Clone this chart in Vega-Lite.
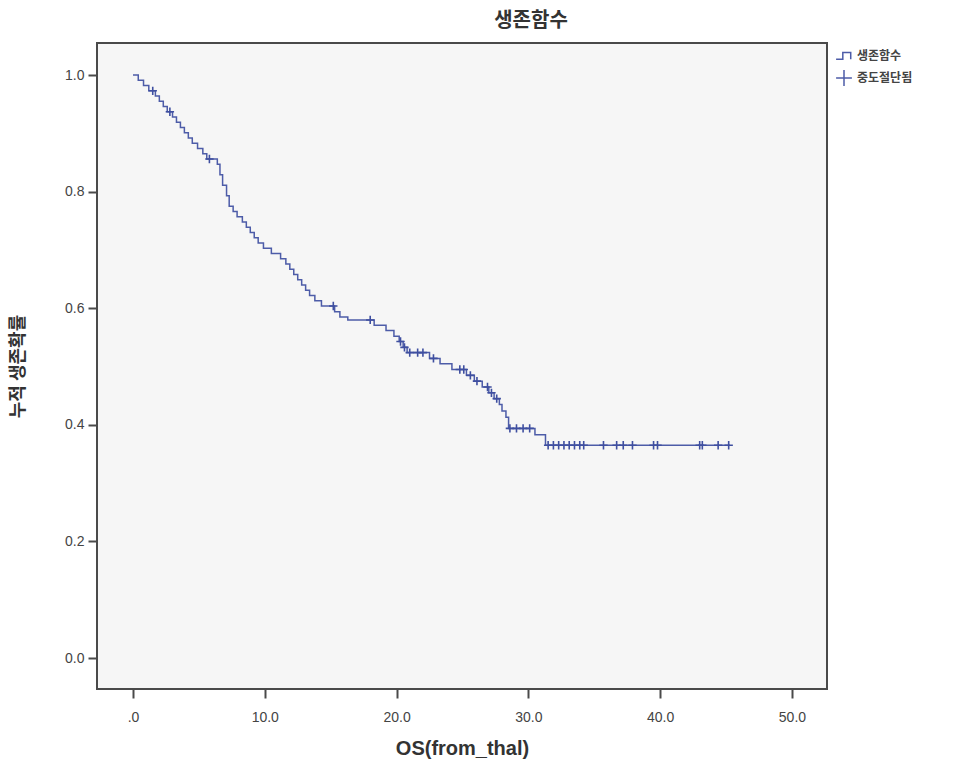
{
  "$schema": "https://vega.github.io/schema/vega-lite/v6.json",
  "width": 730,
  "height": 646,
  "autosize": {"type": "none"},
  "padding": {"left": 97, "top": 43, "right": 146, "bottom": 79},
  "background": "white",
  "config": {
    "font": "Liberation Sans, Noto Sans CJK KR",
    "view": {"fill": "#f6f6f6", "stroke": "#4a4a4a", "strokeWidth": 2}
  },
  "title": {
    "text": "생존함수",
    "font": "Noto Sans CJK KR",
    "fontSize": 20,
    "fontWeight": "bold",
    "color": "#333333",
    "anchor": "middle",
    "dx": 69,
    "offset": 12
  },
  "datasets": {
    "events": [
      {"t": 0.0, "s": 1.0},
      {"t": 0.4, "s": 0.991},
      {"t": 0.8, "s": 0.982},
      {"t": 1.2, "s": 0.973},
      {"t": 1.7, "s": 0.964},
      {"t": 2.0, "s": 0.955},
      {"t": 2.3, "s": 0.946},
      {"t": 2.6, "s": 0.937},
      {"t": 3.0, "s": 0.928},
      {"t": 3.3, "s": 0.919},
      {"t": 3.6, "s": 0.910},
      {"t": 3.9, "s": 0.901},
      {"t": 4.2, "s": 0.892},
      {"t": 4.5, "s": 0.883},
      {"t": 4.9, "s": 0.874},
      {"t": 5.3, "s": 0.865},
      {"t": 5.6, "s": 0.856},
      {"t": 6.4, "s": 0.847},
      {"t": 6.6, "s": 0.829},
      {"t": 6.8, "s": 0.811},
      {"t": 7.1, "s": 0.793},
      {"t": 7.3, "s": 0.775},
      {"t": 7.6, "s": 0.766},
      {"t": 7.9, "s": 0.757},
      {"t": 8.3, "s": 0.748},
      {"t": 8.6, "s": 0.739},
      {"t": 8.9, "s": 0.730},
      {"t": 9.2, "s": 0.721},
      {"t": 9.5, "s": 0.712},
      {"t": 9.9, "s": 0.703},
      {"t": 10.5, "s": 0.694},
      {"t": 11.2, "s": 0.685},
      {"t": 11.6, "s": 0.676},
      {"t": 11.9, "s": 0.667},
      {"t": 12.2, "s": 0.658},
      {"t": 12.5, "s": 0.649},
      {"t": 12.8, "s": 0.640},
      {"t": 13.1, "s": 0.631},
      {"t": 13.4, "s": 0.622},
      {"t": 13.8, "s": 0.613},
      {"t": 14.3, "s": 0.604},
      {"t": 15.3, "s": 0.594},
      {"t": 15.7, "s": 0.585},
      {"t": 16.3, "s": 0.580},
      {"t": 18.3, "s": 0.571},
      {"t": 19.2, "s": 0.562},
      {"t": 19.8, "s": 0.552},
      {"t": 20.2, "s": 0.543},
      {"t": 20.5, "s": 0.533},
      {"t": 20.8, "s": 0.524},
      {"t": 22.5, "s": 0.514},
      {"t": 23.3, "s": 0.505},
      {"t": 24.2, "s": 0.495},
      {"t": 25.3, "s": 0.485},
      {"t": 25.9, "s": 0.475},
      {"t": 26.5, "s": 0.465},
      {"t": 27.0, "s": 0.455},
      {"t": 27.4, "s": 0.445},
      {"t": 27.8, "s": 0.435},
      {"t": 28.0, "s": 0.424},
      {"t": 28.3, "s": 0.413},
      {"t": 28.5, "s": 0.394},
      {"t": 30.5, "s": 0.383},
      {"t": 31.3, "s": 0.365},
      {"t": 45.3, "s": 0.365}
    ],
    "censored": [
      {"t": 1.5, "s": 0.973, "k": "중도절단됨"},
      {"t": 2.8, "s": 0.937, "k": "중도절단됨"},
      {"t": 5.8, "s": 0.856, "k": "중도절단됨"},
      {"t": 15.2, "s": 0.604, "k": "중도절단됨"},
      {"t": 18.0, "s": 0.580, "k": "중도절단됨"},
      {"t": 20.3, "s": 0.543, "k": "중도절단됨"},
      {"t": 20.6, "s": 0.533, "k": "중도절단됨"},
      {"t": 21.0, "s": 0.524, "k": "중도절단됨"},
      {"t": 21.6, "s": 0.524, "k": "중도절단됨"},
      {"t": 22.0, "s": 0.524, "k": "중도절단됨"},
      {"t": 22.8, "s": 0.514, "k": "중도절단됨"},
      {"t": 24.8, "s": 0.495, "k": "중도절단됨"},
      {"t": 25.1, "s": 0.495, "k": "중도절단됨"},
      {"t": 25.6, "s": 0.485, "k": "중도절단됨"},
      {"t": 26.1, "s": 0.475, "k": "중도절단됨"},
      {"t": 26.9, "s": 0.465, "k": "중도절단됨"},
      {"t": 27.2, "s": 0.455, "k": "중도절단됨"},
      {"t": 27.6, "s": 0.445, "k": "중도절단됨"},
      {"t": 28.6, "s": 0.394, "k": "중도절단됨"},
      {"t": 29.1, "s": 0.394, "k": "중도절단됨"},
      {"t": 29.6, "s": 0.394, "k": "중도절단됨"},
      {"t": 30.1, "s": 0.394, "k": "중도절단됨"},
      {"t": 31.5, "s": 0.365, "k": "중도절단됨"},
      {"t": 31.9, "s": 0.365, "k": "중도절단됨"},
      {"t": 32.3, "s": 0.365, "k": "중도절단됨"},
      {"t": 32.7, "s": 0.365, "k": "중도절단됨"},
      {"t": 33.1, "s": 0.365, "k": "중도절단됨"},
      {"t": 33.5, "s": 0.365, "k": "중도절단됨"},
      {"t": 33.9, "s": 0.365, "k": "중도절단됨"},
      {"t": 34.2, "s": 0.365, "k": "중도절단됨"},
      {"t": 35.7, "s": 0.365, "k": "중도절단됨"},
      {"t": 36.7, "s": 0.365, "k": "중도절단됨"},
      {"t": 37.2, "s": 0.365, "k": "중도절단됨"},
      {"t": 37.9, "s": 0.365, "k": "중도절단됨"},
      {"t": 39.5, "s": 0.365, "k": "중도절단됨"},
      {"t": 39.8, "s": 0.365, "k": "중도절단됨"},
      {"t": 43.0, "s": 0.365, "k": "중도절단됨"},
      {"t": 43.2, "s": 0.365, "k": "중도절단됨"},
      {"t": 44.4, "s": 0.365, "k": "중도절단됨"},
      {"t": 45.2, "s": 0.365, "k": "중도절단됨"}
    ]
  },
  "encoding": {
    "x": {
      "field": "t",
      "type": "quantitative",
      "scale": {"domain": [-2.73, 52.66], "nice": false, "zero": false},
      "axis": {
        "values": [0, 10, 20, 30, 40, 50],
        "labelExpr": "datum.value == 0 ? '.0' : format(datum.value, '.1f')",
        "title": "OS(from_thal)",
        "titleFont": "Liberation Sans",
        "titleFontSize": 20,
        "titleFontWeight": "bold",
        "titleColor": "#333333",
        "titleY": 59,
        "titleBaseline": "middle",
        "labelFontSize": 14,
        "labelColor": "#444444",
        "labelPadding": 12,
        "tickSize": 9,
        "tickWidth": 2,
        "tickColor": "#4a4a4a",
        "domain": false,
        "grid": false
      }
    },
    "y": {
      "field": "s",
      "type": "quantitative",
      "scale": {"domain": [-0.053, 1.055], "nice": false, "zero": false},
      "axis": {
        "values": [0, 0.2, 0.4, 0.6, 0.8, 1.0],
        "format": ".1f",
        "title": "누적 생존확률",
        "titleFont": "Noto Sans CJK KR",
        "titleFontSize": 18,
        "titleFontWeight": "bold",
        "titleColor": "#333333",
        "titleX": -79,
        "titleY": 323,
        "titleAlign": "center",
        "titleBaseline": "middle",
        "labelFontSize": 14,
        "labelColor": "#444444",
        "labelPadding": 4,
        "tickSize": 9,
        "tickWidth": 2,
        "tickColor": "#4a4a4a",
        "domain": false,
        "grid": false
      }
    }
  },
  "layer": [
    {
      "data": {"name": "events"},
      "mark": {"type": "line", "interpolate": "step-after", "color": "#4d5ca8", "strokeWidth": 1.5}
    },
    {
      "data": {"name": "censored"},
      "mark": {"type": "point", "filled": false, "strokeWidth": 1.6, "color": "#3f4fa0", "opacity": 1},
      "encoding": {
        "shape": {
          "field": "k",
          "type": "nominal",
          "scale": {
            "domain": ["생존함수", "중도절단됨"],
            "range": ["M-1,0.4H-0.15V-0.45H0.85V0.4", "M-1,0H1M0,-1V1"]
          },
          "legend": {
            "title": null,
            "orient": "none",
            "legendX": 738,
            "legendY": 4,
            "labelFont": "Noto Sans CJK KR",
            "labelFontSize": 12,
            "labelFontWeight": "bold",
            "labelColor": "#444444",
            "symbolSize": 250,
            "symbolStrokeColor": "#4d5ca8",
            "symbolFillColor": "transparent",
            "symbolStrokeWidth": 1.5,
            "rowPadding": 4,
            "labelOffset": 4
          }
        },
        "size": {"value": 70}
      }
    }
  ]
}
